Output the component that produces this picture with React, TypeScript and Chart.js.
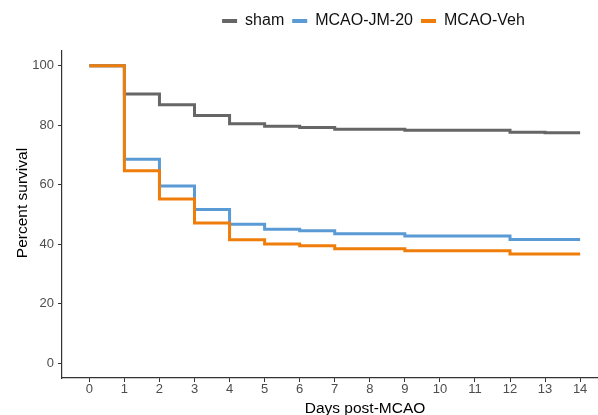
import React, { useEffect, useRef } from 'react';
import { Chart, registerables } from 'chart.js';

Chart.register(...registerables);

const days = [0, 1, 2, 3, 4, 5, 6, 7, 8, 9, 10, 11, 12, 13, 14];
const sham = [100, 90.5, 86.9, 83.3, 80.5, 79.7, 79.3, 78.7, 78.7, 78.3, 78.3, 78.3, 77.7, 77.5, 77.5];
const jm20 = [100, 68.6, 59.6, 51.7, 46.7, 45.0, 44.5, 43.5, 43.5, 42.8, 42.8, 42.8, 41.6, 41.6, 41.6];
const veh = [100, 64.7, 55.2, 47.1, 41.5, 40.1, 39.5, 38.5, 38.5, 37.8, 37.8, 37.8, 36.7, 36.7, 36.7];
const yTicks = [0, 20, 40, 60, 80, 100];
const seriesNames = ['sham', 'MCAO-JM-20', 'MCAO-Veh'];
const seriesColors = ['#666666', '#5B9BD5', '#EF7D0A'];
const xTitle = 'Days post-MCAO';
const yTitle = 'Percent survival';

const FONT = '"Liberation Sans", Arial, Helvetica, sans-serif';

const legendShift = {
  id: 'legendShift',
  afterLayout(chart: any) {
    const lg = chart.legend;
    if (!lg) return;
    lg.left += 74.5;
    lg.right += 74.5;
    lg.top -= 12;
    lg.bottom -= 12;
  },
};

const axisTitles = {
  id: 'axisTitles',
  afterDraw(chart: any) {
    const ctx = chart.ctx as CanvasRenderingContext2D;
    const { left, right, top, bottom } = chart.chartArea;
    ctx.save();
    ctx.fillStyle = '#000000';
    ctx.font = `15.5px ${FONT}`;
    ctx.textAlign = 'center';
    ctx.textBaseline = 'alphabetic';
    ctx.fillText(xTitle, (left + right) / 2 + 35, bottom + 34.5);
    ctx.translate(26.5, (top + bottom) / 2 - 11.5);
    ctx.rotate(-Math.PI / 2);
    ctx.fillText(yTitle, 0, 0);
    ctx.restore();
  },
};

export default function App() {
  const ref = useRef<HTMLCanvasElement>(null);

  useEffect(() => {
    const series = [sham, jm20, veh];
    const chart = new Chart(ref.current as HTMLCanvasElement, {
      type: 'line',
      data: {
        datasets: series.map((vals, i) => ({
          label: seriesNames[i],
          data: days.map((d, j) => ({ x: d, y: vals[j] })),
          borderColor: seriesColors[i],
          backgroundColor: seriesColors[i],
          borderWidth: 3,
          stepped: 'before' as const,
          pointRadius: 0,
          pointHoverRadius: 0,
          fill: false,
          order: 3 - i,
          borderCapStyle: 'butt' as const,
          borderJoinStyle: 'miter' as const,
        })),
      },
      options: {
        animation: false,
        responsive: false,
        devicePixelRatio: 1,
        layout: { padding: { top: 17, left: 0, right: 0, bottom: 0 } },
        plugins: {
          tooltip: { enabled: false },
          legend: {
            display: true,
            position: 'top',
            align: 'center',
            labels: {
              boxWidth: 15,
              boxHeight: 4,
              padding: 8,
              color: '#111111',
              font: { family: FONT, size: 16 },
              sort: (a: any, b: any) => a.datasetIndex - b.datasetIndex,
              generateLabels: (c: any) =>
                (Chart.defaults.plugins.legend.labels.generateLabels as any)(c).map((l: any) => ({
                  ...l,
                  lineWidth: 0,
                  fillStyle: seriesColors[l.datasetIndex],
                })),
            },
          },
        },
        scales: {
          x: {
            type: 'linear',
            min: -0.78,
            max: 14.51,
            afterBuildTicks: (s: any) => {
              s.ticks = days.map((v) => ({ value: v }));
            },
            afterFit: (s: any) => {
              s.height = 37;
            },
            grid: {
              display: true,
              drawOnChartArea: false,
              drawTicks: true,
              tickLength: 4,
              tickColor: '#333333',
              tickWidth: 1,
            },
            border: { display: true, color: '#333333', width: 1.2 },
            ticks: {
              color: '#4d4d4d',
              font: { family: FONT, size: 13 },
              padding: 0,
              maxRotation: 0,
              autoSkip: false,
            },
          },
          y: {
            type: 'linear',
            min: -5,
            max: 105,
            afterBuildTicks: (s: any) => {
              s.ticks = yTicks.map((v) => ({ value: v }));
            },
            afterFit: (s: any) => {
              s.width = 62;
            },
            grid: {
              display: true,
              drawOnChartArea: false,
              drawTicks: true,
              tickLength: 4,
              tickColor: '#333333',
              tickWidth: 1,
            },
            border: { display: true, color: '#333333', width: 1.2 },
            ticks: {
              color: '#4d4d4d',
              font: { family: FONT, size: 13 },
              padding: 4,
              autoSkip: false,
            },
          },
        },
      },
      plugins: [legendShift, axisTitles],
    });
    return () => chart.destroy();
  }, []);

  return (
    <div style={{ position: 'fixed', left: 0, top: 0, width: 598, height: 415, background: '#ffffff' }}>
      <canvas ref={ref} width={598} height={415} style={{ display: 'block' }} />
    </div>
  );
}
